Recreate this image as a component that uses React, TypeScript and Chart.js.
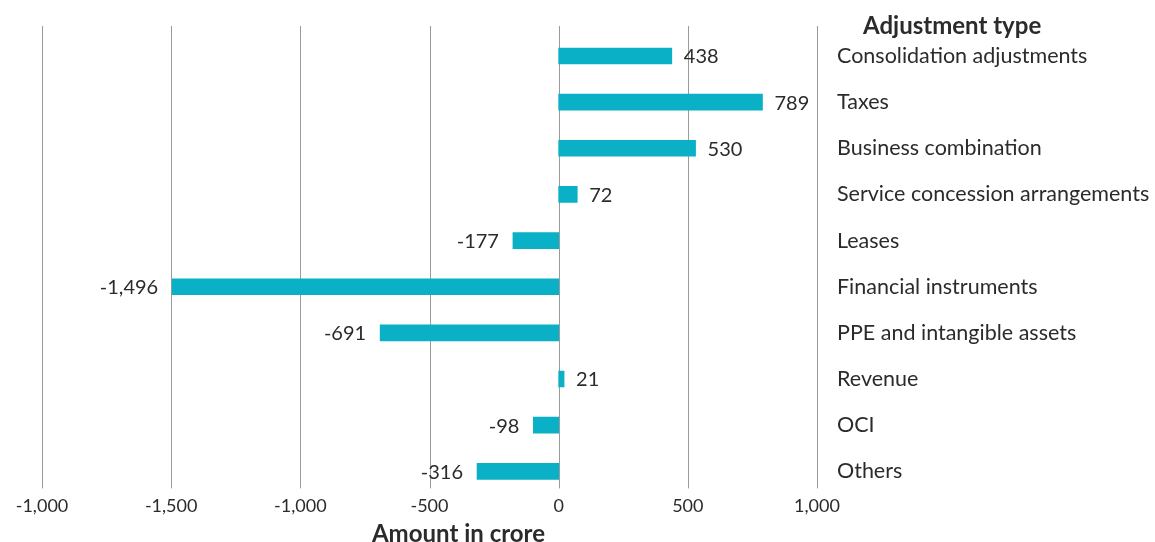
import React, { useEffect, useRef } from "react";
import { Chart, registerables } from "chart.js";

Chart.register(...registerables);

const categories = [
  "Consolidation adjustments",
  "Taxes",
  "Business combination",
  "Service concession arrangements",
  "Leases",
  "Financial instruments",
  "PPE and intangible assets",
  "Revenue",
  "OCI",
  "Others",
];
const values = [438, 789, 530, 72, -177, -1496, -691, 21, -98, -316];
const tickLabels = ["-1,000", "-1,500", "-1,000", "-500", "0", "500", "1,000"];
const xTitle = "Amount in crore";
const legendTitle = "Adjustment type";

const FONT = "Lato, 'Open Sans', sans-serif";
const TEXT = "#2b2b2b";
const BAR = "#0AB1C6";
const GRID = "#9a9a9a";

const overlay = {
  id: "overlay",
  beforeDatasetsDraw(chart: any) {
    const { ctx, chartArea, scales } = chart;
    const x = scales.x;
    ctx.save();
    ctx.strokeStyle = GRID;
    ctx.lineWidth = 1;
    x.ticks.forEach((t: any) => {
      const px = Math.round(x.getPixelForValue(t.value)) + 0.5;
      ctx.beginPath();
      ctx.moveTo(px, 26);
      ctx.lineTo(px, chartArea.bottom - 6);
      ctx.stroke();
    });
    ctx.restore();
  },
  afterDraw(chart: any) {
    const { ctx, scales } = chart;
    const meta = chart.getDatasetMeta(0);
    ctx.save();
    ctx.font = `20px ${FONT}`;
    ctx.fillStyle = TEXT;
    ctx.textBaseline = "middle";
    meta.data.forEach((bar: any, i: number) => {
      const v = values[i];
      const txt = v.toLocaleString("en-US");
      if (v >= 0) {
        ctx.textAlign = "left";
        ctx.fillText(txt, bar.x + 12, bar.y + 1);
      } else {
        ctx.textAlign = "right";
        ctx.fillText(txt, bar.x - 14, bar.y + 1);
      }
    });
    ctx.font = `bold 24px ${FONT}`;
    ctx.textAlign = "left";
    ctx.fillText(legendTitle, scales.y.left + 46, 26);
    ctx.textAlign = "center";
    const mid = (scales.x.getPixelForValue(-1000) + scales.x.getPixelForValue(0)) / 2 + 29;
    ctx.fillText(xTitle, mid, 534);
    ctx.restore();
  },
};

export default function App() {
  const ref = useRef<HTMLCanvasElement | null>(null);
  useEffect(() => {
    document.body.style.margin = "0";
    const chart = new Chart(ref.current!, {
      type: "bar",
      data: {
        labels: categories,
        datasets: [
          {
            data: values,
            backgroundColor: BAR,
            borderWidth: 0,
            barThickness: 16,
          },
        ],
      },
      options: {
        indexAxis: "y",
        animation: false,
        responsive: false,
        maintainAspectRatio: false,
        layout: { padding: { left: 42, top: 26, right: 0, bottom: 24 } },
        plugins: { legend: { display: false }, tooltip: { enabled: false } },
        scales: {
          x: {
            min: -2000,
            max: 1000,
            ticks: {
              stepSize: 500,
              autoSkip: false,
              maxRotation: 0,
              color: TEXT,
              font: { family: FONT, size: 18 },
              padding: 1,
              callback: (_v: any, i: number) => tickLabels[i],
            },
            grid: { display: false, drawTicks: false },
            border: { display: false },
          },
          y: {
            position: "right",
            ticks: {
              color: TEXT,
              font: { family: FONT, size: 21.5 },
              padding: 20,
            },
            grid: { display: false, drawTicks: false },
            border: { display: false },
            afterFit: (s: any) => {
              s.width = 338;
            },
          },
        },
      },
      plugins: [overlay],
    });
    return () => chart.destroy();
  }, []);
  return <canvas ref={ref} width={1155} height={542} style={{ display: "block" }} />;
}
